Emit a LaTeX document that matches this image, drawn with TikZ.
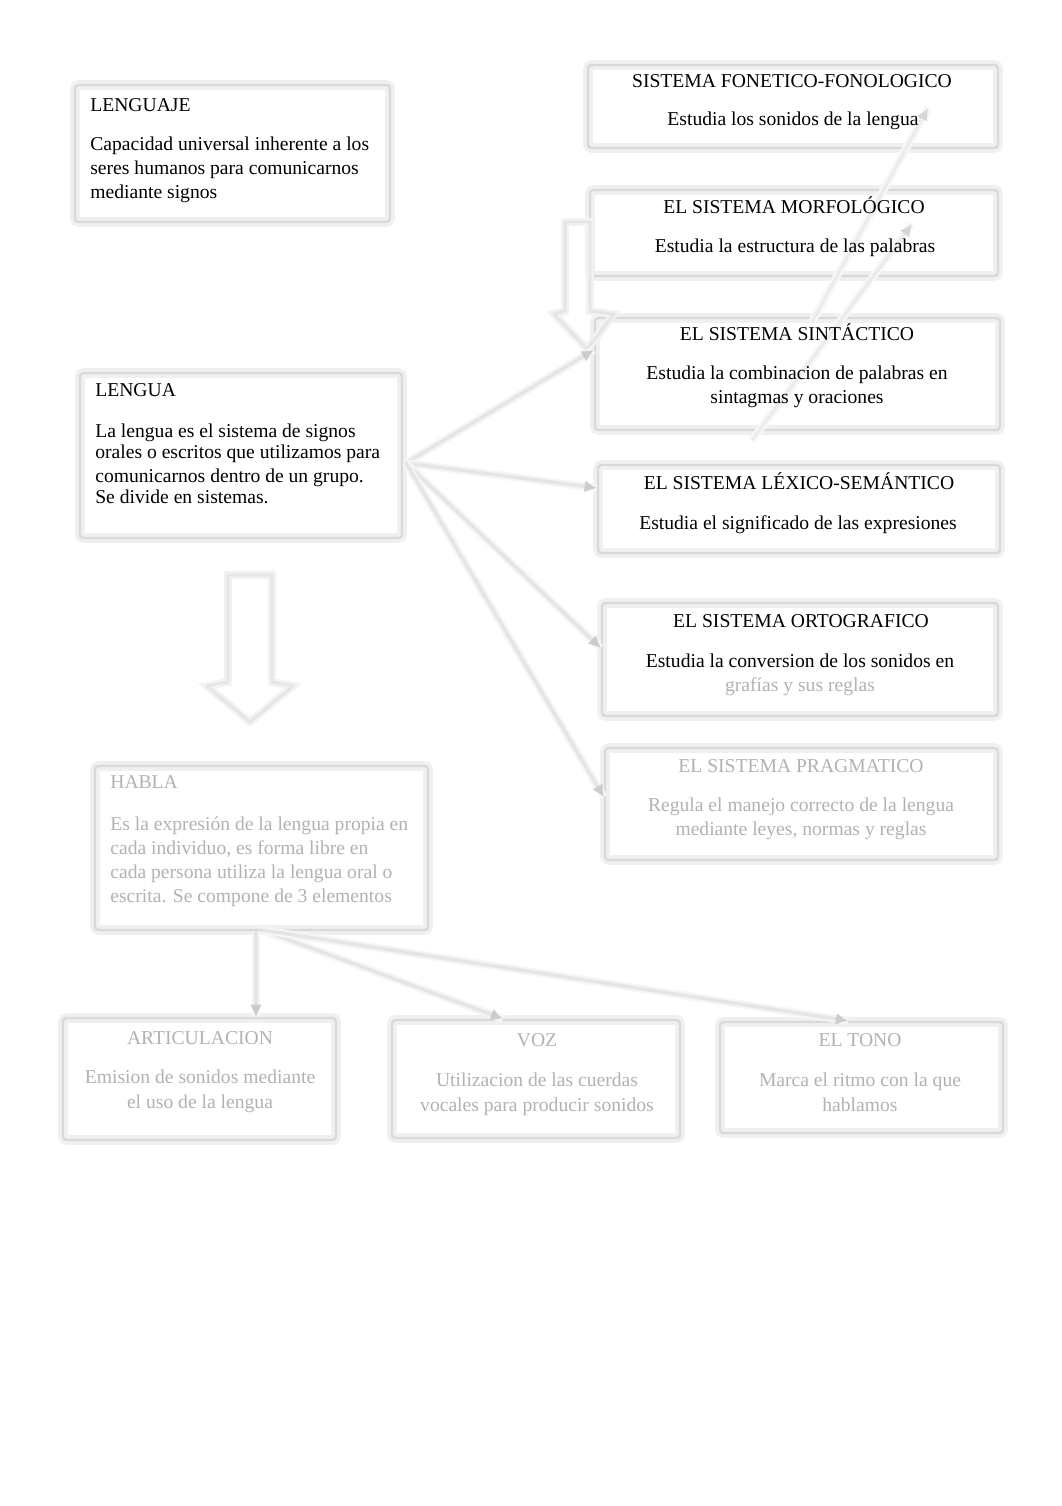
\documentclass[tikz,border=0pt]{standalone}
\usepackage{fontspec}
\setmainfont{Liberation Serif}
\usetikzlibrary{fit,arrows.meta}
\begin{document}
\begin{tikzpicture}[x=0.5763pt,y=-0.5763pt,
  box/.style={draw=black!15, line width=1.4pt, rounded corners=2pt, inner sep=0pt,
              preaction={draw=black!6, line width=5.5pt, rounded corners=3pt}},
  lbl/.style={anchor=base, inner sep=0pt, font=\fontsize{11.3}{13.6}\selectfont},
  lbll/.style={lbl, anchor=base west},
  fog/.style={text=black!30},
  conn/.style={draw=black!10, line width=2pt, -{Latex[length=7pt,width=7pt,color=black!20]},
               preaction={draw=black!4, line width=4.5pt, -}},
  faint/.style={draw=black!8, line width=1.8pt, -{Latex[length=7pt,width=7pt,color=black!16]},
               preaction={draw=black!3, line width=4.5pt, -}},
  blockarrow/.style={draw=black!10, line width=1.6pt, line join=round,
               preaction={draw=black!5, line width=4.5pt}}
]
\fill[white] (0,0) rectangle (1062,1506);
\useasboundingbox (0,0) rectangle (1062,1506);

% ---------- boxes ----------
\node[box, fit={(75,85) (390,222)}] (lenguaje) {};
\node[box, fit={(80,373) (402,538)}] (lengua) {};
\node[box, fit={(95,766) (428,930)}] (habla) {};
\node[box, fit={(588,65) (998,148)}] (fon) {};
\node[box, fit={(590,190) (998,276)}] (mor) {};
\node[box, fit={(595,318) (1000,430)}] (sint) {};
\node[box, fit={(598,465) (1000,553)}] (lex) {};
\node[box, fit={(602,603) (998,716)}] (orto) {};
\node[box, fit={(605,748) (998,860)}] (prag) {};
\node[box, fit={(63,1018) (336,1140)}] (bA) {};
\node[box, fit={(392,1020) (680,1138)}] (bB) {};
\node[box, fit={(720,1022) (1003,1133)}] (bC) {};

% ---------- block arrows ----------
\draw[blockarrow] (228,575) -- (272,575) -- (272,682) -- (293,686) -- (250,722)
  -- (207,686) -- (228,682) -- cycle;
\draw[blockarrow] (565,222) -- (590,222) -- (590,311) -- (614,314) -- (587,349)
  -- (554,314) -- (565,311) -- cycle;

% ---------- connectors ----------
\coordinate (lo) at (406,463);
\draw[conn] (lo) -- (sint.west |- 0,350);
\draw[conn] (lo) -- (lex.west |- 0,488);
\draw[conn] (lo) -- (orto.west |- 0,648);
\draw[conn] (lo) -- (prag.west |- 0,797);

\coordinate (ho) at (262,930);
\draw[conn] (habla.south -| 256,0) -- (bA.north -| 256,0);
\draw[conn] (ho) -- (bB.north -| 503,0);
\draw[conn] (ho) -- (bC.north -| 848,0);

\coordinate (dA) at (812,322);
\coordinate (dB) at (752,440);
\draw[faint] (dA) -- (928,108);
\draw[faint] (dB) -- (912,224);

% ---------- texts ----------
\node[lbll] (t1) at (90,111) {LENGUAJE};
\node[lbll] (t2) at (90,150) {Capacidad universal inherente a los};
\node[lbll] (t3) at (90,174) {seres humanos para comunicarnos};
\node[lbll] (t4) at (90,198) {mediante signos};

\node[lbll] (t5) at (95,396) {LENGUA};
\node[lbll] (t6) at (95,437) {La lengua es el sistema de signos};
\node[lbll] (t7) at (95,458) {orales o escritos que utilizamos para};
\node[lbll] (t8) at (95,482) {comunicarnos dentro de un grupo.};
\node[lbll] (t9) at (95,503) {Se divide en sistemas.};

\node[lbll, fog] (t10) at (110,788) {HABLA};
\node[lbll, fog] (t11) at (110,830) {Es la expresión de la lengua propia en};
\node[lbll, fog] (t12) at (110,854) {cada individuo, es forma libre en};
\node[lbll, fog] (t13) at (110,878) {cada persona utiliza la lengua oral o};
\node[lbll, fog] (t14) at (110,902) {escrita. Se compone de 3 elementos};

\node[lbl] (t15) at (792,87) {SISTEMA FONETICO-FONOLOGICO};
\node[lbl] (t16) at (793,125) {Estudia los sonidos de la lengua};

\node[lbl] (t17) at (794,213) {EL SISTEMA MORFOLÓGICO};
\node[lbl] (t18) at (795,252) {Estudia la estructura de las palabras};

\node[lbl] (t19) at (797,340) {EL SISTEMA SINTÁCTICO};
\node[lbl] (t20) at (797,379) {Estudia la combinacion de palabras en};
\node[lbl] (t21) at (797,403) {sintagmas y oraciones};

\node[lbl] (t22) at (799,489) {EL SISTEMA LÉXICO-SEMÁNTICO};
\node[lbl] (t23) at (798,529) {Estudia el significado de las expresiones};

\node[lbl] (t24) at (801,627) {EL SISTEMA ORTOGRAFICO};
\node[lbl] (t25) at (800,667) {Estudia la conversion de los sonidos en};
\node[lbl, fog] (t26) at (800,691) {grafías y sus reglas};

\node[lbl, fog] (t27) at (801,772) {EL SISTEMA PRAGMATICO};
\node[lbl, fog] (t28) at (801,811) {Regula el manejo correcto de la lengua};
\node[lbl, fog] (t29) at (801,835) {mediante leyes, normas y reglas};

\node[lbl, fog] (t30) at (200,1044) {ARTICULACION};
\node[lbl, fog] (t31) at (200,1083) {Emision de sonidos mediante};
\node[lbl, fog] (t32) at (200,1108) {el uso de la lengua};

\node[lbl, fog] (t33) at (537,1046) {VOZ};
\node[lbl, fog] (t34) at (537,1086) {Utilizacion de las cuerdas};
\node[lbl, fog] (t35) at (537,1111) {vocales para producir sonidos};

\node[lbl, fog] (t36) at (860,1046) {EL TONO};
\node[lbl, fog] (t37) at (860,1086) {Marca el ritmo con la que};
\node[lbl, fog] (t38) at (860,1111) {hablamos};
\end{tikzpicture}
\end{document}
